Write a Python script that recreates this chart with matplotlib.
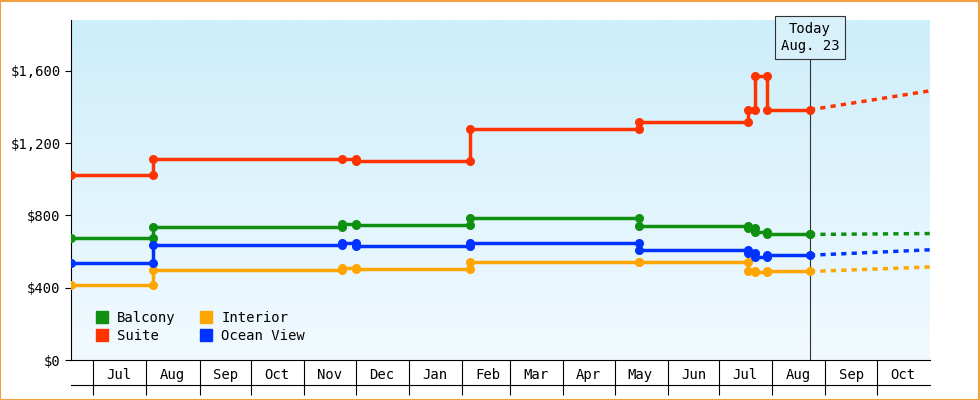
import matplotlib
matplotlib.use("Agg")
import matplotlib.pyplot as plt
import numpy as np
import pandas as pd
from matplotlib.lines import Line2D

dates = ["2022-06-18", "2022-08-05", "2022-11-23", "2022-12-01", "2023-02-06",
         "2023-05-15", "2023-07-18", "2023-07-22", "2023-07-29", "2023-08-23"]
forecast_end = "2023-10-31"
# price in effect before each date, then price from that date
suite = [1025, 1110, 1110, 1100, 1280, 1320, 1385, 1570, 1385, 1385]
balcony = [675, 735, 755, 745, 785, 740, 730, 710, 700, 695]
ocean = [535, 635, 650, 630, 645, 610, 590, 570, 580, 580]
interior = [415, 500, 510, 505, 545, 540, 495, 485, 490, 490]
forecast = {"Suite": 1490, "Balcony": 700, "Ocean View": 610, "Interior": 515}
series = [("Balcony", balcony, "#109010"), ("Suite", suite, "#ff3300"),
          ("Interior", interior, "#ffa500"), ("Ocean View", ocean, "#0033ff")]
month_labels = ["Jul", "Aug", "Sep", "Oct", "Nov", "Dec", "Jan", "Feb", "Mar",
                "Apr", "May", "Jun", "Jul", "Aug", "Sep", "Oct"]

plt.rcParams['font.family'] = ['DejaVu Sans Mono']
t = pd.to_datetime(dates)
tnum = matplotlib.dates.date2num(t)
tend = matplotlib.dates.date2num(pd.Timestamp(forecast_end)) + 1
tstart = tnum[0]

fig = plt.figure(figsize=(9.8, 4), dpi=100)
fig.patch.set_facecolor("white")
fig.patches.append(plt.Rectangle((0.0005, 0.001), 0.998, 0.997, transform=fig.transFigure,
                                 fill=False, edgecolor="#f0a040", lw=1.5))
ax = fig.add_axes([71/980, 40/400, 859/980, 340/400])
ymax = 1882
grad = np.linspace(0, 1, 256).reshape(-1, 1)
from matplotlib.colors import LinearSegmentedColormap
cm = LinearSegmentedColormap.from_list("g", ["#f2faff", "#cdeefb"])
ax.imshow(grad, cmap=cm, aspect="auto", origin="lower",
          extent=[tstart, tend, 0, ymax], zorder=0)

for name, vals, col in series:
    xs, ys = [tnum[0]], [vals[0]]
    for i in range(1, len(vals)):
        xs += [tnum[i], tnum[i]]
        ys += [vals[i-1], vals[i]]
    # dedupe
    px, py = [xs[0]], [ys[0]]
    for a, b in zip(xs[1:], ys[1:]):
        if (a, b) != (px[-1], py[-1]):
            px.append(a); py.append(b)
    ax.plot(px, py, color=col, lw=2.5, marker="o", ms=5.5, zorder=3)
    ax.plot([tnum[-1], tend], [vals[-1], forecast[name]], color=col, lw=2.5,
            ls=(0, (1.5, 1.5)), zorder=3)

today = tnum[-1]
ax.axvline(today, color="#333333", lw=0.8, zorder=2)
ax.text(today, ymax - 10, "Today\nAug. 23", ha="center", va="top", fontsize=10,
        linespacing=1.3,
        bbox=dict(boxstyle="square,pad=0.4", fc="#d8f0fa", ec="#333333", lw=0.8), zorder=5)

ax.set_xlim(tstart, tend)
ax.set_ylim(0, ymax)
ax.set_yticks([0, 400, 800, 1200, 1600])
ax.set_yticklabels(["$0", "$400", "$800", "$1,200", "$1,600"], fontsize=10)
ax.tick_params(axis="y", length=4)
mstarts = pd.date_range("2022-07-01", "2023-10-01", freq="MS")
mnum = matplotlib.dates.date2num(mstarts)
ax.set_xticks(mnum)
ax.set_xticklabels([])
ax.tick_params(axis="x", which="major", length=25, direction="out", width=0.8)
mids = mnum + 15
ax.set_xticks(mids, minor=True)
ax.set_xticklabels(month_labels, minor=True, fontsize=10)
ax.tick_params(axis="x", which="minor", length=0, pad=6)
for s in ["top", "right"]:
    ax.spines[s].set_visible(False)
ax.add_line(Line2D([0, 1], [-25/340, -25/340], transform=ax.transAxes, color="black",
                   lw=0.8, clip_on=False))

handles = [Line2D([], [], marker="s", ls="", color=c, ms=8) for _, _, c in series]
ax.legend(handles, [n for n, _, _ in series], ncol=2, loc="lower left", frameon=False,
          fontsize=10, handletextpad=0.1, columnspacing=1.2, borderaxespad=0.8,
          labelspacing=0.3)
fig.savefig("out.png", dpi=100)
